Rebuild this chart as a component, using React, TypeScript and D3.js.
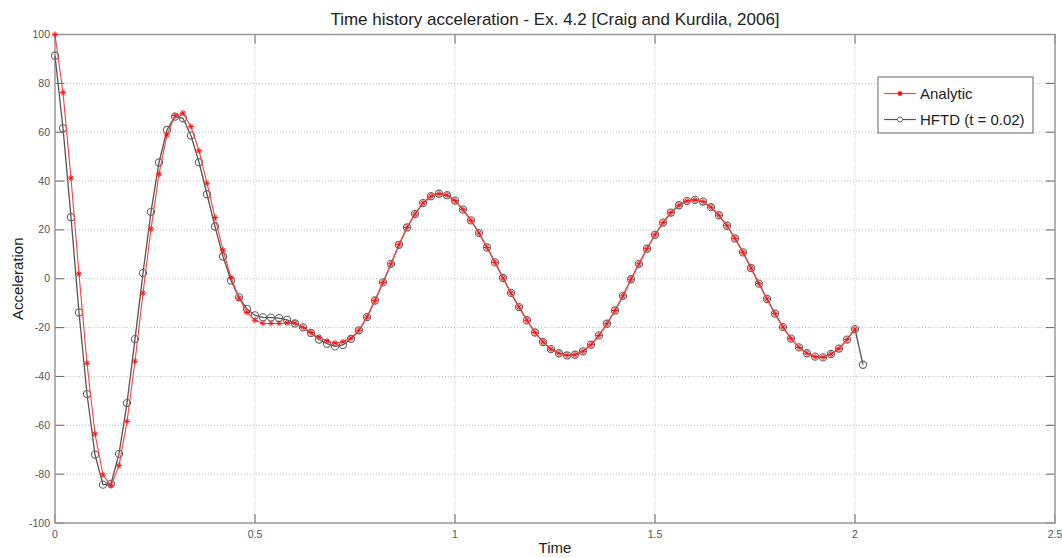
import React from "react";
import * as d3 from "d3";

const timeStep = 0.02;
const analyticValues: number[] = [
  100, 76.2, 41.2, 2.0, -34.6, -63.5, -80.3, -84.7, -76.5, -58.4,
  -33.8, -5.9, 20.4, 42.8, 58.9, 66.8, 67.9, 62.3, 52.4, 39.1,
  25.1, 11.7, 0.5, -7.9, -13.8, -17.0, -18.3, -18.3, -18.3, -18.1,
  -18.2, -19.9, -22.0, -23.9, -25.5, -26.3, -25.8, -24.3, -21.1, -15.7,
  -8.9, -1.5, 6.1, 13.9, 21.0, 26.5, 31.0, 33.8, 34.8, 34.2,
  32.0, 28.3, 23.9, 18.7, 12.8, 6.7, 0.3, -5.8, -11.6, -17.0,
  -22.0, -25.9, -28.8, -30.5, -31.4, -31.1, -29.7, -27.0, -23.2, -18.4,
  -13.0, -7.0, -0.2, 6.1, 12.3, 18.0, 23.0, 27.1, 30.1, 31.9,
  32.3, 31.6, 29.3, 26.0, 21.7, 16.5, 10.8, 4.4, -2.0, -8.3,
  -14.3, -19.8, -24.5, -28.1, -30.5, -31.9, -32.2, -30.8, -28.6, -24.9,
  -20.6,
];
const hftdValues: number[] = [
  91.3, 61.6, 25.2, -13.8, -47.2, -72.0, -84.3, -84.0, -71.7, -50.9,
  -24.7, 2.3, 27.4, 47.6, 60.9, 66.4, 65.7, 58.6, 47.7, 34.6,
  21.4, 9.1, -0.7, -7.6, -12.4, -15.0, -15.8, -15.9, -16.1, -16.8,
  -18.3, -19.9, -22.2, -24.9, -26.6, -27.7, -27.1, -24.6, -21.1, -15.7,
  -8.9, -1.5, 6.1, 13.9, 21.0, 26.5, 31.0, 33.8, 34.8, 34.2,
  32.0, 28.3, 23.9, 18.7, 12.8, 6.7, 0.3, -5.8, -11.6, -17.0,
  -22.0, -25.9, -28.8, -30.5, -31.4, -31.1, -29.7, -27.0, -23.2, -18.4,
  -13.0, -7.0, -0.2, 6.1, 12.3, 18.0, 23.0, 27.1, 30.1, 31.9,
  32.3, 31.6, 29.3, 26.0, 21.7, 16.5, 10.8, 4.4, -2.0, -8.3,
  -14.3, -19.8, -24.5, -28.1, -30.5, -31.9, -32.2, -30.8, -28.6, -24.9,
  -20.6, -35.2,
];
const xTicks = [0, 0.5, 1, 1.5, 2, 2.5];
const yTicks = [-100, -80, -60, -40, -20, 0, 20, 40, 60, 80, 100];
const title = "Time history acceleration - Ex. 4.2 [Craig and Kurdila, 2006]";
const xLabel = "Time";
const yLabel = "Acceleration";
const legendLabels = ["Analytic", "HFTD (t = 0.02)"];

const W = 1062;
const H = 558;
const L = 55, R = 1055, T = 34.5, B = 523;

function star(cx: number, cy: number, s: number) {
  const d = s * 0.7;
  return `M${cx - s},${cy}L${cx + s},${cy}M${cx},${cy - s}L${cx},${cy + s}M${cx - d},${cy - d}L${cx + d},${cy + d}M${cx - d},${cy + d}L${cx + d},${cy - d}`;
}

export default function App() {
  const x = d3.scaleLinear().domain([0, 2.5]).range([L, R]);
  const y = d3.scaleLinear().domain([-100, 100]).range([B, T]);
  const aPts = analyticValues.map((v, i) => [i * timeStep, v] as [number, number]);
  const hPts = hftdValues.map((v, i) => [i * timeStep, v] as [number, number]);
  const line = d3.line<[number, number]>().x((d) => x(d[0])).y((d) => y(d[1]));
  const font = "Arial, 'Liberation Sans', sans-serif";
  const axisColor = "#999";
  return (
    <svg width={W} height={H} style={{ position: "absolute", left: 0, top: 0, background: "#fff" }} fontFamily={font}>
      <rect x={0} y={0} width={W} height={H} fill="#fff" />
      {/* grid */}
      {xTicks.slice(1, -1).map((t) => (
        <line key={"gx" + t} x1={x(t)} x2={x(t)} y1={T} y2={B} stroke="#bbb" strokeWidth={1} strokeDasharray="1,2" />
      ))}
      {yTicks.slice(1, -1).map((t) => (
        <line key={"gy" + t} x1={L} x2={R} y1={y(t)} y2={y(t)} stroke="#bbb" strokeWidth={1} strokeDasharray="1,2" />
      ))}
      {/* ticks */}
      {xTicks.map((t) => (
        <g key={"tx" + t}>
          <line x1={x(t)} x2={x(t)} y1={B} y2={B - 9} stroke="#666" />
          <line x1={x(t)} x2={x(t)} y1={T} y2={T + 9} stroke="#666" />
          <text x={x(t)} y={B + 15} fontSize={10.5} fill="#555" textAnchor="middle">{String(t)}</text>
        </g>
      ))}
      {yTicks.map((t) => (
        <g key={"ty" + t}>
          <line x1={L} x2={L + 9} y1={y(t)} y2={y(t)} stroke="#666" />
          <line x1={R} x2={R - 9} y1={y(t)} y2={y(t)} stroke="#666" />
          <text x={L - 5} y={y(t) + 3.5} fontSize={10.5} fill="#555" textAnchor="end">{String(t)}</text>
        </g>
      ))}
      <rect x={L} y={T} width={R - L} height={B - T} fill="none" stroke={axisColor} strokeWidth={1.5} />
      {/* HFTD */}
      <path d={line(hPts) || ""} fill="none" stroke="#555" strokeWidth={1.3} />
      {hPts.map((p, i) => (
        <circle key={"h" + i} cx={x(p[0])} cy={y(p[1])} r={3.6} fill="none" stroke="#666" strokeWidth={1.1} />
      ))}
      {/* Analytic */}
      <path d={line(aPts) || ""} fill="none" stroke="#ff4040" strokeWidth={1.1} />
      {aPts.map((p, i) => (
        <path key={"a" + i} d={star(x(p[0]), y(p[1]), 3)} stroke="#ff1010" strokeWidth={1} fill="none" />
      ))}
      {/* legend */}
      <rect x={878} y={77} width={155} height={56} fill="#fff" stroke="#666" strokeWidth={1} />
      <line x1={884} x2={916} y1={93.5} y2={93.5} stroke="#ff4040" strokeWidth={1.2} />
      <path d={star(900, 93.5, 2.5)} stroke="#ff0000" strokeWidth={1.1} fill="none" />
      <text x={920} y={99} fontSize={15} fill="#222">{legendLabels[0]}</text>
      <line x1={884} x2={916} y1={119.5} y2={119.5} stroke="#555" strokeWidth={1.2} />
      <circle cx={900} cy={119.5} r={2.5} fill="#fff" stroke="#666" strokeWidth={1} />
      <text x={920} y={125} fontSize={15} fill="#222">{legendLabels[1]}</text>
      {/* titles */}
      <text x={555} y={25} fontSize={17} fill="#222" textAnchor="middle">{title}</text>
      <text x={555} y={553} fontSize={15} fill="#222" textAnchor="middle">{xLabel}</text>
      <text transform={`translate(23,${(T + B) / 2}) rotate(-90)`} fontSize={15} fill="#222" textAnchor="middle">{yLabel}</text>
    </svg>
  );
}
